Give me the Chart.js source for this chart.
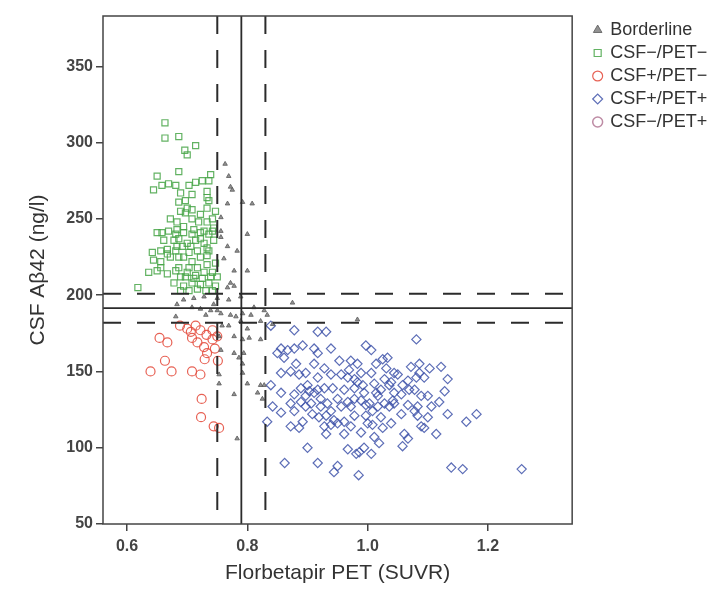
<!DOCTYPE html>
<html>
<head>
<meta charset="utf-8">
<script src="https://cdn.jsdelivr.net/npm/chart.js@4.4.1/dist/chart.umd.min.js"></script>
<style>
  html, body { margin: 0; padding: 0; background: #fff; }
  canvas { display: block; }
</style>
</head>
<body>
<canvas id="myChart" width="728" height="593"></canvas>
<script>
// groupes (leyenda)
const groupNames = ['Borderline', 'CSF\u2212/PET\u2212', 'CSF+/PET\u2212', 'CSF+/PET+', 'CSF\u2212/PET+'];

// puntos [SUVR, ng/l]
const borderline = [
  [0.763,286],[0.769,278],[0.772,271],[0.775,269],[0.767,260],[0.792,261],[0.808,260],[0.800,240],
  [0.767,232],[0.783,229],[0.778,216],[0.800,216],[0.756,242],[0.756,238],[0.756,251],[0.761,224],
  [0.772,208],[0.767,205],[0.778,206],[0.875,195],[0.789,199],[0.811,192],[0.828,190],[0.769,197],
  [0.750,198],[0.728,199],[0.711,198],[0.694,197],[0.683,194],[0.708,192],[0.722,191],[0.739,190],
  [0.756,188],[0.772,187],[0.781,186],[0.792,188],[0.806,187],[0.822,183],[0.833,187],[0.842,181],
  [0.681,186],[0.731,187],[0.983,184],[0.778,173],[0.789,183],[0.800,178],[0.769,180],[0.778,162],
  [0.786,159],[0.792,155],[0.794,162],[0.792,149],[0.800,142],[0.778,135],[0.817,136],[0.822,141],
  [0.825,132],[0.828,141],[0.783,106],[0.753,142],[0.753,148],[0.756,164],[0.753,173],[0.758,180],
  [0.750,190],[0.744,194],[0.822,171],[0.803,172],[0.792,171]
];
const csfNegPetNeg = [
  [0.663,313],[0.663,303],[0.686,304],[0.696,295],[0.714,298],[0.700,292],[0.650,278],[0.686,281],
  [0.739,279],[0.644,269],[0.658,272],[0.669,273],[0.681,272],[0.703,272],[0.714,274],[0.725,275],
  [0.736,275],[0.733,264],[0.736,262],[0.686,261],[0.697,262],[0.700,257],[0.708,256],[0.689,255],
  [0.722,253],[0.733,257],[0.747,255],[0.672,250],[0.683,248],[0.697,254],[0.708,250],[0.719,248],
  [0.733,248],[0.744,244],[0.650,241],[0.658,241],[0.669,242],[0.683,243],[0.694,241],[0.708,240],
  [0.722,241],[0.736,240],[0.661,236],[0.678,236],[0.700,234],[0.714,236],[0.728,234],[0.744,236],
  [0.642,228],[0.656,229],[0.667,227],[0.681,229],[0.692,232],[0.703,228],[0.717,229],[0.736,229],
  [0.644,223],[0.656,222],[0.672,225],[0.686,225],[0.708,222],[0.722,225],[0.733,226],[0.636,215],
  [0.650,216],[0.667,214],[0.681,216],[0.689,212],[0.700,215],[0.714,213],[0.728,215],[0.742,215],
  [0.750,212],[0.678,208],[0.694,206],[0.708,208],[0.722,207],[0.736,208],[0.747,206],[0.689,203],
  [0.703,203],[0.717,204],[0.731,203],[0.742,203],[0.618,205],[0.681,240],[0.694,245],[0.711,243],
  [0.728,242],[0.742,242],[0.686,218],[0.703,218],[0.717,218],[0.733,220],[0.747,221],[0.683,232],
  [0.706,232],[0.694,225],[0.742,250],[0.733,268],[0.689,267],[0.708,266],[0.711,211],[0.725,211],
  [0.739,212],[0.697,212],[0.656,218],[0.667,230],[0.686,237],[0.722,237],[0.733,231]
];
const csfPosPetNeg = [
  [0.639,150],[0.654,172],[0.667,169],[0.663,157],[0.674,150],[0.688,180],[0.700,178],[0.706,176],
  [0.714,180],[0.708,172],[0.722,177],[0.732,174],[0.717,169],[0.728,166],[0.742,171],[0.733,162],
  [0.746,165],[0.729,158],[0.751,157],[0.708,150],[0.722,148],[0.724,132],[0.723,120],[0.744,114],
  [0.753,113],[0.742,177],[0.750,173]
];
const csfPosPetPos = [
  [0.839,180],[0.878,177],[0.917,176],[0.931,176],[0.856,165],[0.867,164],[0.878,165],[0.892,167],
  [0.911,165],[0.939,165],[0.997,167],[1.006,164],[1.081,171],[1.033,159],[0.850,162],[0.861,159],
  [0.917,162],[0.953,157],[0.972,157],[0.983,155],[1.072,153],[1.086,155],[1.103,152],[1.122,153],
  [0.856,149],[0.881,155],[0.886,148],[0.897,149],[0.917,146],[0.967,146],[0.978,145],[0.989,149],
  [1.006,149],[1.031,152],[1.050,148],[1.067,144],[1.081,146],[1.086,149],[1.133,145],[0.839,141],
  [0.856,136],[0.889,139],[0.900,141],[0.911,136],[0.928,139],[0.942,139],[0.961,138],[0.978,139],
  [0.992,141],[1.011,142],[1.022,138],[1.036,141],[1.044,136],[1.056,135],[1.078,138],[1.128,137],
  [0.878,135],[0.897,134],[0.906,129],[0.922,132],[0.933,129],[0.950,132],[0.967,130],[0.978,132],
  [0.989,131],[1.003,129],[1.017,134],[1.028,129],[1.042,131],[1.067,128],[1.083,127],[1.100,134],
  [1.119,130],[0.856,123],[0.878,124],[0.908,122],[0.919,120],[0.931,121],[0.944,118],[0.961,117],
  [0.978,121],[0.997,121],[1.008,124],[1.022,120],[1.056,122],[1.100,120],[1.133,122],[1.164,117],
  [1.181,122],[0.872,114],[0.886,113],[0.928,114],[0.950,116],[0.972,114],[1.008,115],[1.089,114],
  [1.094,113],[1.114,109],[1.011,107],[1.061,109],[1.067,106],[1.058,101],[1.019,103],[0.994,100],
  [0.986,97],[0.981,96],[0.900,100],[0.862,90],[0.917,90],[0.950,88],[0.944,84],[0.985,82],
  [1.139,87],[1.158,86],[1.256,86],[0.833,117],[0.842,127],[0.969,151],[0.983,143],[0.994,136],
  [1.014,136],[1.028,145],[1.039,143],[1.044,129],[1.036,127],[1.017,127],[0.997,128],[0.972,127],
  [0.956,127],[0.939,124],[0.922,127],[0.917,138],[0.903,137],[0.889,130],[0.872,150],[0.911,155],
  [0.928,152],[0.939,148],[0.956,148],[1.094,146],[1.089,134],[1.083,121],[1.106,127],[1.044,149],
  [1.014,155],[1.025,158],[1.078,124],[1.069,138],[1.058,141],[0.897,127],[0.872,129],[0.892,117],
  [0.939,115],[0.931,109],[0.961,109],[0.989,110],[1.025,113],[1.039,116],[1.000,116],[0.967,99],
  [1.006,96]
];
const csfNegPetPos = [];

// lineas de corte
const cutX = [0.75, 0.79, 0.83];
const cutY = [201, 191.5, 182];
const cutDashed = [true, false, true];

// ejes
const xMin = 0.56, xMax = 1.34;
const yMin = 50, yMax = 383;
const xTicks = [0.6, 0.8, 1.0, 1.2];
const yTicks = [50, 100, 150, 200, 250, 300, 350];

const toXY = arr => arr.map(p => ({x: p[0], y: p[1]}));
const fam = 'Liberation Sans, Arial, sans-serif';

const ctx = document.getElementById('myChart');

// marco y lineas de corte
const cutoffPlugin = {
  id: 'cutoffs',
  afterDatasetsDraw(chart) {
    const {ctx, chartArea: a, scales: {x, y}} = chart;
    ctx.save();
    ctx.strokeStyle = '#2b2b2b';
    cutX.forEach((v, i) => {
      const px = x.getPixelForValue(v);
      ctx.lineWidth = cutDashed[i] ? 2 : 1.8;
      ctx.setLineDash(cutDashed[i] ? [18, 16] : []);
      ctx.beginPath();
      ctx.moveTo(px, a.top);
      ctx.lineTo(px, a.bottom);
      ctx.stroke();
    });
    cutY.forEach((v, i) => {
      const py = y.getPixelForValue(v);
      ctx.lineWidth = cutDashed[i] ? 2 : 1.8;
      ctx.setLineDash(cutDashed[i] ? [18, 16] : []);
      ctx.beginPath();
      ctx.moveTo(a.left, py);
      ctx.lineTo(a.right, py);
      ctx.stroke();
    });
    ctx.setLineDash([]);
    ctx.lineWidth = 1.5;
    ctx.strokeStyle = '#444';
    ctx.strokeRect(a.left, a.top, a.right - a.left, a.bottom - a.top);
    ctx.restore();
  }
};

const data = {
  datasets: [
    {
      label: groupNames[0],
      data: toXY(borderline),
      pointStyle: 'triangle',
      pointRadius: 2.6,
      borderWidth: 1,
      borderColor: 'rgba(95,95,95,0.85)',
      backgroundColor: 'rgba(110,110,110,0.75)'
    },
    {
      label: groupNames[1],
      data: toXY(csfNegPetNeg),
      pointStyle: 'rect',
      pointRadius: 4.3,
      borderWidth: 1.2,
      borderColor: 'rgba(70,165,70,0.85)',
      backgroundColor: 'rgba(255,255,255,0)'
    },
    {
      label: groupNames[2],
      data: toXY(csfPosPetNeg),
      pointStyle: 'circle',
      pointRadius: 4.5,
      borderWidth: 1.2,
      borderColor: 'rgba(228,80,65,0.9)',
      backgroundColor: 'rgba(255,255,255,0)'
    },
    {
      label: groupNames[3],
      data: toXY(csfPosPetPos),
      pointStyle: 'rectRot',
      pointRadius: 4.6,
      borderWidth: 1.2,
      borderColor: 'rgba(65,85,170,0.85)',
      backgroundColor: 'rgba(255,255,255,0)'
    },
    {
      label: groupNames[4],
      data: toXY(csfNegPetPos),
      pointStyle: 'circle',
      pointRadius: 4.5,
      borderWidth: 1.5,
      borderColor: 'rgb(190,140,165)',
      backgroundColor: 'rgba(255,255,255,0)'
    }
  ]
};

const config = {
  type: 'scatter',
  data: data,
  plugins: [cutoffPlugin],
  options: {
    responsive: false,
    animation: false,
    layout: { padding: { left: 0, top: 16, right: 21, bottom: 0 } },
    plugins: {
      tooltip: { enabled: false },
      legend: {
        position: 'right',
        align: 'start',
        labels: {
          usePointStyle: true,
          boxHeight: 7,
          boxWidth: 7,
          padding: 5,
          color: '#333',
          font: { family: fam, size: 18 }
        }
      }
    },
    scales: {
      x: {
        type: 'linear',
        min: xMin,
        max: xMax,
        afterBuildTicks: s => { s.ticks = xTicks.map(v => ({value: v})); },
        afterFit: s => { s.height = 69; },
        grid: { display: true, drawOnChartArea: false, drawTicks: true, tickLength: 7, color: '#444', lineWidth: 1.5 },
        border: { display: false },
        ticks: {
          padding: 6,
          color: '#444',
          font: { family: fam, size: 16, weight: 'bold' },
          callback: v => v.toFixed(1)
        },
        title: {
          display: true,
          text: 'Florbetapir PET (SUVR)',
          color: '#333',
          padding: { top: 2, bottom: 7 },
          font: { family: fam, size: 21 }
        }
      },
      y: {
        type: 'linear',
        min: yMin,
        max: yMax,
        afterBuildTicks: s => { s.ticks = yTicks.map(v => ({value: v})); },
        afterFit: s => { s.width = 103; },
        grid: { display: true, drawOnChartArea: false, drawTicks: true, tickLength: 7, color: '#444', lineWidth: 1.5 },
        border: { display: false },
        ticks: {
          padding: 3,
          color: '#444',
          font: { family: fam, size: 16, weight: 'bold' }
        },
        title: {
          display: true,
          text: 'CSF A\u03b242 (ng/l)',
          color: '#333',
          padding: { top: 26, bottom: 4 },
          font: { family: fam, size: 21 }
        }
      },
      // hueco entre el grafico y la leyenda
      gap: {
        type: 'linear',
        position: 'right',
        display: true,
        afterFit: s => { s.width = 17; },
        grid: { display: false },
        border: { display: false },
        ticks: { display: false }
      }
    }
  }
};

new Chart(ctx, config);
</script>
</body>
</html>
